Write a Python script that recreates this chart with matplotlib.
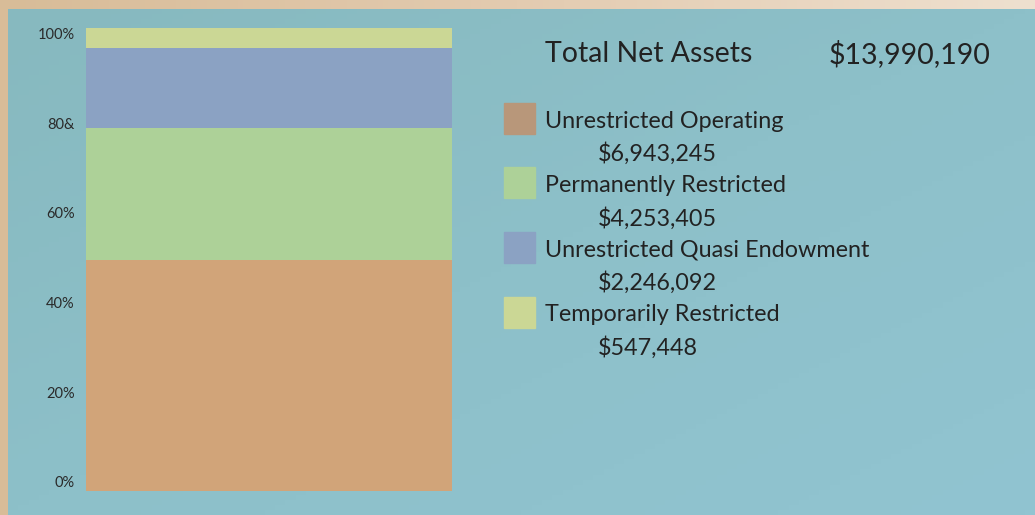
import matplotlib.pyplot as plt
from matplotlib.patches import Rectangle
import numpy as np

# Данные
categories = ["Unrestricted Operating", "Permanently Restricted",
              "Unrestricted Quasi Endowment", "Temporarily Restricted"]
amounts = ["$6,943,245", "$4,253,405", "$2,246,092", "$547,448"]
shares = [49.8, 28.5, 17.3, 4.4]  # доли столбца, % (по картинке)
total_label = "$13,990,190"
tick_values = [0, 20, 40, 60, 80, 100]
tick_labels = ["0%", "20%", "40%", "60%", "80&", "100%"]

bar_colors = ["#d1a479", "#add198", "#8ba2c3", "#cbd795"]
swatch_colors = ["#b8977a", "#add198", "#8ba2c3", "#cbd795"]

W, H = 1035, 515
plt.rcParams['font.family'] = ['Lato', 'DejaVu Sans']
fig = plt.figure(figsize=(W / 100, H / 100), dpi=100)

# Фон: бежевая рамка сверху/слева и бирюзовый градиент
frame = fig.add_axes([0, 0, 1, 1])
gx = np.linspace(0, 1, 200)
frame.imshow(np.tile(gx, (2, 1)), extent=[0, W, 0, H], aspect='auto',
             cmap=plt.matplotlib.colors.LinearSegmentedColormap.from_list(
                 "tan", ["#d8bc98", "#e3cbb0", "#eee0cf"]))
bg = np.add.outer(np.linspace(1, 0, 100), np.linspace(0, 1, 100)) / 2
frame.imshow(bg, extent=[8, W, 0, H - 9], aspect='auto', origin='lower',
             cmap=plt.matplotlib.colors.LinearSegmentedColormap.from_list(
                 "teal", ["#87b9bf", "#8dc0c9", "#91c4d1"]))
frame.set_xlim(0, W)
frame.set_ylim(0, H)
frame.axis('off')

# Столбец
ax = fig.add_axes([86 / W, (H - 491) / H, 366 / W, 463 / H])
ax.patch.set_alpha(0)
bottom = 0
for s, c in zip(shares, bar_colors):
    ax.bar(0, s, bottom=bottom, width=1, color=c)
    bottom += s
ax.set_xlim(-0.5, 0.5)
ax.set_ylim(0, 100)
ax.set_xticks([])
ax.set_yticks(np.array(tick_values) * 0.968 + 2, tick_labels)
ax.tick_params(axis='y', length=0, pad=8, labelsize=10.5, labelcolor='#2a2a2a')
for sp in ax.spines.values():
    sp.set_visible(False)

# Заголовок и легенда (в пикселях)
def px(x, y):
    return x / W, 1 - y / H

fig.text(*px(545, 54), "Total Net Assets", fontsize=20.5, color='#222222', va='center')
fig.text(*px(991, 54), total_label, fontsize=20.5, color='#222222', va='center', ha='right')

for i, (cat, amt, sc) in enumerate(zip(categories, amounts, swatch_colors)):
    y0 = 103 + i * 64.5
    fig.patches.append(Rectangle(px(504, y0 + 31), 31 / W, 31 / H,
                                 transform=fig.transFigure, color=sc, figure=fig))
    fig.text(*px(545, y0 + 18), cat, fontsize=16.8, color='#222222', va='center')
    fig.text(*px(598, y0 + 51), amt, fontsize=16.8, color='#222222', va='center')

fig.savefig("out.png", dpi=100)
